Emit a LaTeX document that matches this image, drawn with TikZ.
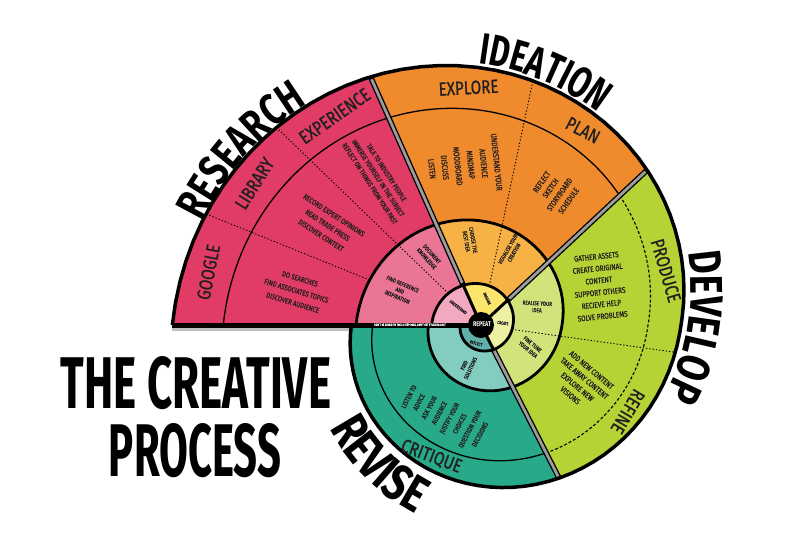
\documentclass[tikz,border=0pt]{standalone}
\usepackage{fontspec}
\setmainfont{Fira Sans}
\newfontfamily\tfont{Fira Sans}[FakeStretch=0.78]
\newfontfamily\tfontn{Fira Sans}[FakeStretch=0.7]
\newfontfamily\cfont{Fira Sans}[FakeStretch=0.8, FakeBold=0.9]
\usetikzlibrary{decorations.text}
\definecolor{resA}{HTML}{E13C65}
\definecolor{resB}{HTML}{EA7595}
\definecolor{resC}{HTML}{F2A9C0}
\definecolor{ideA}{HTML}{F08B2D}
\definecolor{ideB}{HTML}{F6B244}
\definecolor{ideC}{HTML}{FCE56C}
\definecolor{devA}{HTML}{B5D334}
\definecolor{devB}{HTML}{D1E47B}
\definecolor{devC}{HTML}{EDF0A2}
\definecolor{revA}{HTML}{27A98A}
\definecolor{revB}{HTML}{82CCC0}
\definecolor{revC}{HTML}{5FB0A8}
\definecolor{sepgray}{HTML}{9C9C9C}
\definecolor{ink}{HTML}{231F20}
\newcommand{\spfill}[5]{\fill[#1] plot[domain=#4:#5,samples=60] ({sx(#3,\x)},{sy(#3,\x)}) -- plot[domain=#5:#4,samples=60] ({sx(#2,\x)},{sy(#2,\x)}) -- cycle;}
\newcommand{\sparc}[4]{\draw[#1] plot[domain=#3:#4,samples=90] ({sx(#2,\x)},{sy(#2,\x)});}
\newcommand{\spray}[4]{\draw[#1] ({sx(#3,#2)},{sy(#3,#2)}) -- ({sx(#4,#2)},{sy(#4,#2)});}
\newcommand{\sptitle}[6]{\path[decoration={text along path, text={|#6\bfseries\fontsize{#2}{#2}\selectfont|#1}, text align=center}, decorate] plot[domain=#4:#5,samples=90] ({sx(#3,\x)},{sy(#3,\x)});}
\begin{document}
\begin{tikzpicture}[x=1pt,y=1pt,
  declare function={sf(\spr,\spt)=\spr*exp(0.002417*\spt)*(1+0.035*max(0,sin(\spt))); sx(\spr,\spt)=sf(\spr,\spt)*cos(\spt); sy(\spr,\spt)=sf(\spr,\spt)*sin(\spt);},
  content/.style={font=\cfont\fontsize{7.5}{11.5}\selectfont, align=center, text=ink, inner sep=0pt},
  ringtwo/.style={font=\cfont\fontsize{5.8}{7}\selectfont, align=center, text=ink, inner sep=0pt},
  ringone/.style={font=\cfont\fontsize{4.3}{5}\selectfont, align=center, text=ink, inner sep=0pt},
  bandtxt/.style={font=\cfont\fontsize{19}{19}\selectfont, text=ink, inner sep=0pt},
  dots/.style={line width=0.9pt, dash pattern=on 1.3pt off 2pt, black},
  bigtxt/.style={inner sep=0pt, text=black}]
\fill[white] (-481,-225) rectangle (319,325);
\useasboundingbox (-481,-225) rectangle (319,325);
% sector fills
\spfill{resA}{0}{200}{180}{114}
\spfill{ideA}{0}{200}{114}{43}
\spfill{devA}{0}{200}{43}{-63}
\spfill{revA}{0}{200}{-63}{-180}
\spfill{resB}{0}{81}{180}{114}
\spfill{ideB}{0}{81}{114}{43}
\spfill{devB}{0}{81}{43}{-63}
\spfill{revB}{0}{81}{-63}{-180}
\spfill{resC}{0}{32}{180}{114}
\spfill{ideC}{0}{32}{114}{43}
\spfill{devC}{0}{32}{43}{-63}
\spfill{revC}{0}{32}{-63}{-180}
% band boundaries
\sparc{line width=1.3pt}{167}{180}{114}
\sparc{line width=1.3pt}{167}{114}{43}
\sparc{line width=1.1pt, dash pattern=on 3pt off 2pt}{167}{43}{-63}
\sparc{line width=1.3pt}{167}{-63}{-180}
% dotted divisions
\spray{dots}{158}{81}{200}
\spray{dots}{136}{32}{200}
\spray{dots}{78}{32}{200}
\spray{dots}{-8}{32}{200}
% ring outlines
\sparc{line width=2.8pt}{81}{180}{-180}
\sparc{line width=2.8pt}{32}{180}{-180}
% separators
\foreach \a in {114,43,-63}{
  \draw[line width=5.5pt] ({sx(32,\a)},{sy(32,\a)}) -- ({sx(200,\a)},{sy(200,\a)});
  \draw[line width=2.8pt, sepgray] ({sx(34,\a)},{sy(34,\a)}) -- ({sx(198,\a)},{sy(198,\a)});
  \draw[line width=3pt] (0,0) -- ({sx(32,\a)},{sy(32,\a)});
}
\fill[black!25] ({sx(200,180)},-2.5) rectangle ({sx(200,-180)},-5.5);
\draw[line width=5pt] ({sx(200,180)},0) -- (0,0);
\sparc{line width=3.5pt, line join=round}{200}{180}{-180}
\fill (0,0) circle (13);
% centre and bar texts
\node[font=\tfont\bfseries\fontsize{6.8}{7}\selectfont, text=white, inner sep=0pt] (repeat) at (1,1) {REPEAT};
\node[font=\cfont\fontsize{3}{3}\selectfont, text=white, inner sep=0pt] (bartxt) at (-71,0) {DON'T BE AFRAID TO TAKE A STEP BACK, DON'T GET STUCK IN A RUT};
% ring one labels
\node[ringone, rotate=-38] (understand) at (142:29) {UNDERSTAND};
\node[ringone, rotate=-65] (imagine) at (77:27) {IMAGINE};
\node[ringone, rotate=-8] (create) at (5:22) {CREATE};
\node[ringone, rotate=-15] (reflect) at (-105:19) {REFLECT};
% ring two labels
\node[ringtwo, rotate=-23] (findref) at (157:88) {FIND REFERENCE\\AND\\INSPIRATION};
\node[ringtwo, rotate=-48] (document) at (127:86) {DOCUMENT\\KNOWLEDGE};
\node[ringtwo, rotate=-80] (choose) at (97.6:85) {CHOOSE THE\\BEST IDEA};
\node[ringtwo, rotate=60] (visualise) at (68:80) {VISUALISE YOUR\\CREATION};
\node[ringtwo, rotate=-3] (realise) at (18:59) {REALISE YOUR\\IDEA};
\node[ringtwo, rotate=-40] (finetune) at (-24:54) {FINE TUNE\\YOUR IDEA};
\node[ringtwo, rotate=65] (findsol) at (-108:44) {FIND\\SOLUTIONS};
% contents
\node[content, rotate=-17, font=\cfont\fontsize{7.5}{12.5}\selectfont] (cgoogle) at ({sx(124,169.5)},{sy(124,169.5)}) {DO SEARCHES\\FIND ASSOCIATES TOPICS\\DISCOVER AUDIENCE};
\node[content, rotate=-33, font=\cfont\fontsize{7.5}{12}\selectfont] (clibrary) at ({sx(126,147)},{sy(126,147)}) {RECORD EXPERT OPINIONS\\READ TRADE PRESS\\DISCOVER CONTEXT};
\node[content, rotate=-57, font=\cfont\fontsize{7}{10}\selectfont] (cexperience) at ({sx(129,125)},{sy(129,125)}) {TALK TO INDUSTRY PEOPLE\\IMMERSE YOURSELF IN THE SUBJECT\\REFLECT ON THINGS FROM YOUR PAST};
\node[content, rotate=-84, font=\cfont\fontsize{8.2}{13}\selectfont] (cexplore) at ({sx(123,96)},{sy(123,96)}) {UNDERSTAND YOUR\\AUDIENCE\\MINDMAP\\MOODBOARD\\DISCUSS\\LISTEN};
\node[content, rotate=55, font=\cfont\fontsize{8}{11}\selectfont] (cplan) at ({sx(128,61)},{sy(128,61)}) {REFLECT\\SKETCH\\STORYBOARD\\SCHEDULE};
\node[content, rotate=6, font=\cfont\fontsize{8}{12}\selectfont] (cproduce) at ({sx(118,18)},{sy(118,18)}) {GATHER ASSETS\\CREATE ORIGINAL\\CONTENT\\SUPPORT OTHERS\\RECIEVE HELP\\SOLVE PROBLEMS};
\node[content, rotate=-40, font=\cfont\fontsize{8}{11}\selectfont] (crefine) at ({sx(124,-30)},{sy(124,-30)}) {ADD NEW CONTENT\\TAKE AWAY CONTENT\\EXPLORE NEW\\VISIONS};
\node[content, rotate=62, font=\cfont\fontsize{7}{11.5}\selectfont] (crevise) at ({sx(128,-112)},{sy(128,-112)}) {LISTEN TO\\ADVICE\\ASK YOUR\\AUDIENCE\\JUSTIFY YOUR\\CHOICES\\QUESTION YOUR\\DECISIONS};
% band labels
\node[bandtxt, rotate=79] (google) at ({sx(183.5,169)},{sy(183.5,169)}) {GOOGLE};
\node[bandtxt, rotate=58] (library) at ({sx(183.5,148)},{sy(183.5,148)}) {LIBRARY};
\node[bandtxt, rotate=35] (experience) at ({sx(183.5,125)},{sy(183.5,125)}) {EXPERIENCE};
\node[bandtxt, rotate=3] (explore) at ({sx(183.5,93)},{sy(183.5,93)}) {EXPLORE};
\node[bandtxt, rotate=-27.6] (plan) at ({sx(183.5,62.4)},{sy(183.5,62.4)}) {PLAN};
\node[bandtxt, rotate=-73.6] (produce) at ({sx(183.5,16.4)},{sy(183.5,16.4)}) {PRODUCE};
\node[bandtxt, rotate=-120.5] (refine) at ({sx(183.5,-30.5)},{sy(183.5,-30.5)}) {REFINE};
\node[bandtxt, rotate=-20.7] (critique) at ({sx(183.5,-110.7)},{sy(183.5,-110.7)}) {CRITIQUE};
% big titles
\sptitle{RESEARCH}{44}{200.5}{178}{108}{\tfont}
\sptitle{IDEATION}{44}{203}{104}{46}{\tfontn}
\sptitle{DEVELOP}{46}{207}{30}{-33}{\tfont}
\sptitle{REVISE}{51}{260}{-170}{-88}{\tfont}
\node[bigtxt] (thecreative) at (-285,-58) {\resizebox{270pt}{52pt}{\tfont\bfseries THE CREATIVE}};
\node[bigtxt] (process) at (-286,-126) {\resizebox{172pt}{53pt}{\tfont\bfseries PROCESS}};
\end{tikzpicture}
\end{document}
